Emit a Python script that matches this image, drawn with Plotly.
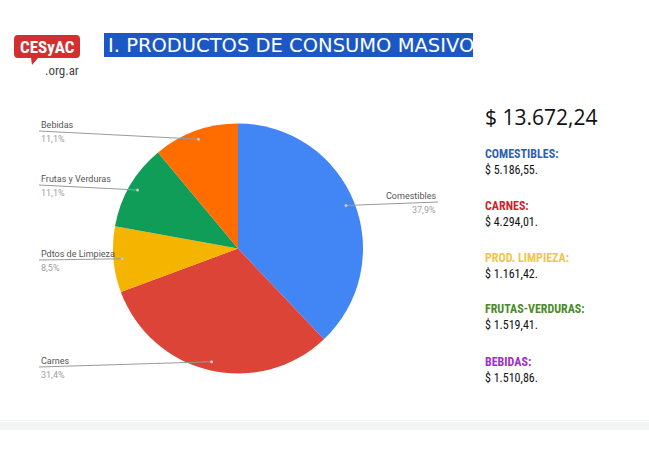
import math
import plotly.graph_objects as go

# ---- data ----
categories = ["Comestibles", "Carnes", "Pdtos de Limpieza", "Frutas y Verduras", "Bebidas"]
values = [5186.55, 4294.01, 1161.42, 1519.41, 1510.86]
pct_labels = ["37,9%", "31,4%", "8,5%", "11,1%", "11,1%"]
slice_colors = ["#4285F4", "#DB4437", "#F4B400", "#0F9D58", "#FF6D01"]

summary_titles = ["COMESTIBLES:", "CARNES:", "PROD. LIMPIEZA:", "FRUTAS-VERDURAS:", "BEBIDAS:"]
summary_amounts = ["$ 5.186,55.", "$ 4.294,01.", "$ 1.161,42.", "$ 1.519,41.", "$ 1.510,86."]
summary_colors = ["#2f5fae", "#cf1f2e", "#ecc64c", "#4b8a2b", "#9a2fcf"]
total_text = "$ 13.672,24"
title_text = "I. PRODUCTOS DE CONSUMO MASIVO"

# ---- layout constants (pixels) ----
W, H = 649, 455
CX, CY, R = 238, 248.5, 125


def px(x):
    return x / W


def py(y):
    return 1 - y / H


fig = go.Figure()
fig.add_trace(go.Pie(
    labels=categories, values=values, sort=False, direction="clockwise",
    rotation=0, marker=dict(colors=slice_colors, line=dict(width=0)),
    textinfo="none", hoverinfo="label+percent", showlegend=False,
    domain=dict(x=[px(CX - R), px(CX + R)], y=[py(CY + R), py(CY - R)]),
))

shapes = []
annotations = []

# leader lines & labels
total = sum(values)
label_side = ["right", "left", "left", "left", "left"]
label_y = [202, 367, 260, 185, 131]
cum = 0
for i, v in enumerate(values):
    mid = (cum + v / 2) / total * 2 * math.pi
    cum += v
    dx = CX + 0.93 * R * math.sin(mid)
    dy = CY - 0.93 * R * math.cos(mid)
    ly = label_y[i]
    if label_side[i] == "left":
        x0, anchor = 39, "left"
    else:
        x0, anchor = 438, "right"
    shapes.append(dict(type="path", xref="paper", yref="paper", layer="above",
                       path=f"M {px(x0)} {py(ly)} L {px(dx)} {py(dy)}",
                       line=dict(color="#9a9a9a", width=1)))
    shapes.append(dict(type="circle", xref="paper", yref="paper", layer="above",
                       x0=px(dx - 1.5), x1=px(dx + 1.5), y0=py(dy + 1.5), y1=py(dy - 1.5),
                       fillcolor="#c8c8c8", line=dict(width=0)))
    annotations.append(dict(x=px(x0), y=py(ly - 6), xref="paper", yref="paper",
                            text=categories[i], showarrow=False, xanchor=anchor, yanchor="middle",
                            font=dict(family="Roboto", size=9, color="#555555")))
    annotations.append(dict(x=px(x0), y=py(ly + 8), xref="paper", yref="paper",
                            text=pct_labels[i], showarrow=False, xanchor=anchor, yanchor="middle",
                            font=dict(family="Roboto", size=9, color="#a0a0a0")))

# title bar
shapes.append(dict(type="rect", xref="paper", yref="paper", layer="below",
                   x0=px(104), x1=px(473), y0=py(57), y1=py(33),
                   fillcolor="#1b58c6", line=dict(width=0)))
annotations.append(dict(x=px(106), y=py(45.5), xref="paper", yref="paper", text=title_text,
                        showarrow=False, xanchor="left", yanchor="middle",
                        font=dict(family="DejaVu Sans", size=19.5, color="white")))

# logo
r = 4
lx0, lx1, ly0, ly1 = 14, 80, 35, 58
logo_path = (f"M {px(lx0 + r)} {py(ly0)} L {px(lx1 - r)} {py(ly0)} "
             f"Q {px(lx1)} {py(ly0)} {px(lx1)} {py(ly0 + r)} "
             f"L {px(lx1)} {py(ly1 - r)} Q {px(lx1)} {py(ly1)} {px(lx1 - r)} {py(ly1)} "
             f"L {px(38)} {py(ly1)} L {px(32)} {py(65)} L {px(31)} {py(ly1)} "
             f"L {px(lx0 + r)} {py(ly1)} Q {px(lx0)} {py(ly1)} {px(lx0)} {py(ly1 - r)} "
             f"L {px(lx0)} {py(ly0 + r)} Q {px(lx0)} {py(ly0)} {px(lx0 + r)} {py(ly0)} Z")
shapes.append(dict(type="path", xref="paper", yref="paper", layer="below", path=logo_path,
                   fillcolor="#d32f2f", line=dict(width=0)))
annotations.append(dict(x=px(47), y=py(47), xref="paper", yref="paper", text="<b>CESyAC</b>",
                        showarrow=False, xanchor="center", yanchor="middle",
                        font=dict(family="Roboto Condensed, Liberation Sans Narrow, Roboto", size=17, color="white")))
annotations.append(dict(x=px(81), y=py(70), xref="paper", yref="paper", text=".org.ar",
                        showarrow=False, xanchor="right", yanchor="middle",
                        font=dict(family="Roboto Condensed, Liberation Sans Narrow, Roboto", size=13, color="#444444")))

# right summary
annotations.append(dict(x=px(483), y=py(117), xref="paper", yref="paper", text=total_text,
                        showarrow=False, xanchor="left", yanchor="middle",
                        font=dict(family="Open Sans", size=21, color="#111111")))
title_ys = [154, 206, 258, 309, 362]
for i, t in enumerate(summary_titles):
    annotations.append(dict(x=px(483), y=py(title_ys[i]), xref="paper", yref="paper",
                            text=f"<b>{t}</b>", showarrow=False, xanchor="left", yanchor="middle",
                            font=dict(family="Roboto Condensed, Liberation Sans Narrow, Roboto",
                                      size=12, color=summary_colors[i])))
    annotations.append(dict(x=px(483), y=py(title_ys[i] + 16), xref="paper", yref="paper",
                            text=summary_amounts[i], showarrow=False, xanchor="left", yanchor="middle",
                            font=dict(family="Roboto Condensed, Liberation Sans Narrow, Roboto",
                                      size=12, color="#111111")))

# bottom band
shapes.append(dict(type="rect", xref="paper", yref="paper", layer="below",
                   x0=0, x1=1, y0=py(430), y1=py(422), fillcolor="#f3f5f5", line=dict(width=0)))
shapes.append(dict(type="line", xref="paper", yref="paper", layer="below",
                   x0=0, x1=1, y0=py(420.5), y1=py(420.5), line=dict(color="#f3f6f8", width=1)))

fig.update_layout(
    width=W, height=H, margin=dict(l=0, r=0, t=0, b=0),
    paper_bgcolor="white", plot_bgcolor="white",
    shapes=shapes, annotations=annotations, showlegend=False,
)
fig.write_html("out.html")
